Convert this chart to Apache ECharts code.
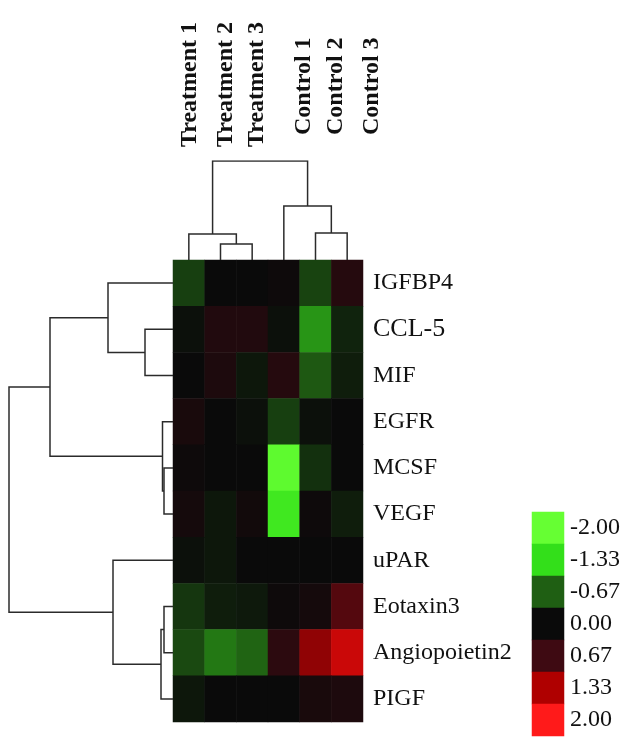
<!DOCTYPE html>
<html>
<head>
<meta charset="utf-8">
<script src="https://cdn.jsdelivr.net/npm/echarts@6/dist/echarts.min.js"></script>
<style>
  html, body { margin: 0; padding: 0; background: #fff; }
  #main { width: 630px; height: 748px; }
</style>
</head>
<body>
<div id="main"></div>
<script>
var samples = ['Treatment 1', 'Treatment 2', 'Treatment 3', 'Control 1', 'Control 2', 'Control 3'];
var genes = ['IGFBP4', 'CCL-5', 'MIF', 'EGFR', 'MCSF', 'VEGF', 'uPAR', 'Eotaxin3', 'Angiopoietin2', 'PIGF'];

// one row per gene, one value per sample
var expression = [
    [-0.42, 0.00, 0.00, 0.05, -0.45, 0.35],
    [-0.05, 0.30, 0.30, -0.05, -0.95, -0.20],
    [0.00, 0.25, -0.10, 0.35, -0.62, -0.15],
    [0.20, 0.00, -0.05, -0.42, -0.05, 0.00],
    [0.05, 0.00, 0.00, -1.90, -0.30, 0.00],
    [0.15, -0.10, 0.10, -1.50, 0.05, -0.15],
    [-0.05, -0.10, 0.00, 0.00, 0.00, 0.00],
    [-0.35, -0.15, -0.12, 0.05, 0.15, 0.80],
    [-0.50, -0.80, -0.70, 0.45, 1.15, 1.55],
    [-0.10, 0.00, 0.00, 0.00, 0.20, 0.25]
];

var legendTicks = [-2.00, -1.33, -0.67, 0.00, 0.67, 1.33, 2.00];
var legendColors = ['#66ff33', '#33e01a', '#1f5e13', '#0a0a0a', '#3d0a12', '#b00000', '#ff1a1a'];

// linkage rows: [childA, childB, height]; new clusters numbered after the leaves
var colLinks = [
    [1, 2, 16],
    [0, 6, 26],
    [4, 5, 27],
    [3, 8, 54],
    [7, 9, 99]
];
var rowLinks = [
    [1, 2, 28],
    [0, 10, 65],
    [4, 5, 9],
    [3, 12, 10.5],
    [11, 13, 123],
    [7, 8, 9],
    [15, 9, 12],
    [6, 16, 60],
    [14, 17, 164]
];

function dendro(links, nLeaves, sideways) {
    var pos = [], hgt = [], out = [];
    for (var i = 0; i < nLeaves; i++) { pos[i] = i; hgt[i] = 0; }
    links.forEach(function (l, k) {
        var a = l[0], b = l[1], h = l[2], id = nLeaves + k;
        pos[id] = (pos[a] + pos[b]) / 2;
        hgt[id] = h;
        var pts = [[pos[a], hgt[a]], [pos[a], h], [pos[b], h], [pos[b], hgt[b]]];
        out.push({ coords: sideways ? pts.map(function (p) { return [p[1], p[0]]; }) : pts });
    });
    return out;
}

var cells = [];
expression.forEach(function (row, r) {
    row.forEach(function (v, c) { cells.push([c, r, v]); });
});
var legendCells = legendTicks.map(function (v, i) { return [0, i, v]; });

var font = 'Liberation Serif, Times New Roman, serif';
var labelX = [190, 226, 257, 304, 336, 372];
var labelBottom = [147, 147, 147, 135, 135, 135];

var option = {
    backgroundColor: '#fff',
    animation: false,
    grid: [
        { left: 173, width: 190, top: 260, height: 462 },
        { left: 173, width: 190, top: 161, height: 99 },
        { left: 8, width: 165, top: 260, height: 462 },
        { left: 532, width: 32, top: 512, height: 224 }
    ],
    xAxis: [
        { gridIndex: 0, type: 'category', data: samples, show: false },
        { gridIndex: 1, type: 'value', min: -0.5, max: 5.5, show: false },
        { gridIndex: 2, type: 'value', min: 0, max: 165, inverse: true, show: false },
        { gridIndex: 3, type: 'category', data: [''], show: false }
    ],
    yAxis: [
        {
            gridIndex: 0, type: 'category', data: genes, inverse: true, position: 'right',
            axisLine: { show: false }, axisTick: { show: false },
            axisLabel: {
                margin: 10, fontSize: 24, fontFamily: font, color: '#111',
                formatter: function (v) { return v === 'CCL-5' ? '{big|' + v + '}' : v; },
                rich: { big: { fontSize: 26, fontFamily: font, color: '#111' } }
            }
        },
        { gridIndex: 1, type: 'value', min: 0, max: 99, show: false },
        { gridIndex: 2, type: 'value', min: -0.5, max: 9.5, inverse: true, show: false },
        {
            gridIndex: 3, type: 'category', data: legendTicks.map(function (v) { return v.toFixed(2); }),
            inverse: true, position: 'right',
            axisLine: { show: false }, axisTick: { show: false },
            axisLabel: { margin: 6, fontSize: 24, fontFamily: font, color: '#111' }
        }
    ],
    visualMap: {
        show: false,
        type: 'continuous',
        min: -2,
        max: 2,
        seriesIndex: [0, 3],
        inRange: { color: legendColors }
    },
    series: [
        {
            type: 'heatmap', xAxisIndex: 0, yAxisIndex: 0, data: cells,
            itemStyle: { borderWidth: 0 }
        },
        {
            type: 'lines', coordinateSystem: 'cartesian2d', xAxisIndex: 1, yAxisIndex: 1,
            polyline: true, data: dendro(colLinks, samples.length, false),
            lineStyle: { color: '#2b2b2b', width: 1.5, opacity: 1 }
        },
        {
            type: 'lines', coordinateSystem: 'cartesian2d', xAxisIndex: 2, yAxisIndex: 2,
            polyline: true, data: dendro(rowLinks, genes.length, true),
            lineStyle: { color: '#2b2b2b', width: 1.5, opacity: 1 }
        },
        {
            type: 'heatmap', xAxisIndex: 3, yAxisIndex: 3, data: legendCells,
            itemStyle: { borderWidth: 0 }
        }
    ],
    graphic: samples.map(function (s, i) {
        return {
            type: 'text', x: labelX[i], y: labelBottom[i], rotation: Math.PI / 2,
            style: {
                text: s, fontSize: 24, fontWeight: 'bold', fontFamily: font,
                fill: '#111', align: 'left', verticalAlign: 'middle'
            }
        };
    })
};

var myChart = echarts.init(document.getElementById('main'));
myChart.setOption(option);
</script>
</body>
</html>
